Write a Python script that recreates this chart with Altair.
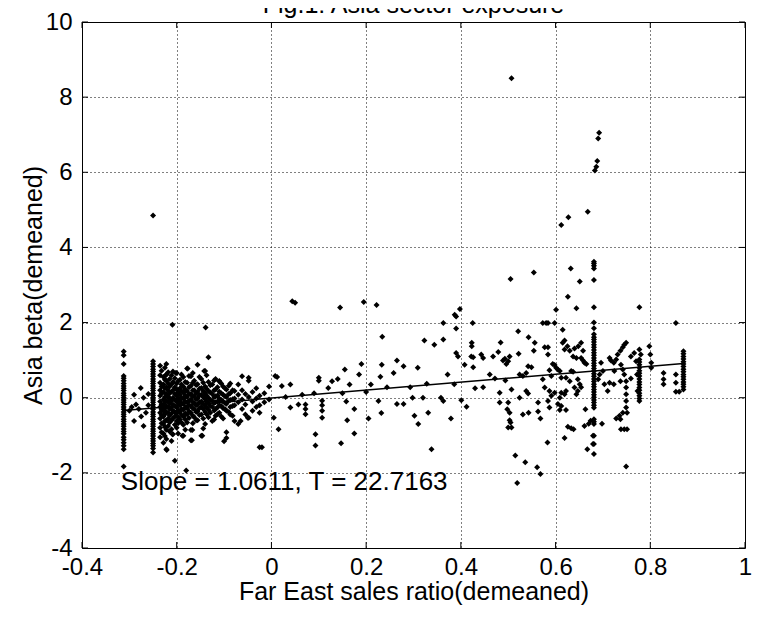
import altair as alt
import pandas as pd

# ---------------- data ----------------
# firms with zero Far East sales (a vertical column of points)
col_a_x = -0.312
col_a_y = [1.23, 1.13, 0.9, 0.58, 0.52, 0.45, 0.38, 0.31, 0.25, 0.19, 0.12, 0.06, 0.0,
           -0.06, -0.12, -0.18, -0.25, -0.31, -0.38, -0.44, -0.5, -0.57, -0.63, -0.7,
           -0.76, -0.83, -0.9, -0.96, -1.05, -1.12, -1.2, -1.28, -1.37, -1.83]

col_b_x = -0.25
col_b_y = [4.85, 0.97, 0.9, 0.83, 0.76, 0.7, 0.63, 0.57, 0.5, 0.44, 0.38, 0.31, 0.25, 0.19,
           0.12, 0.06, 0.0, -0.06, -0.12, -0.19, -0.25, -0.31, -0.38, -0.44, -0.5, -0.57,
           -0.63, -0.7, -0.76, -0.83, -0.89, -0.96, -1.02, -1.09, -1.15, -1.22, -1.28,
           -1.35, -1.46]

# dense cluster, read as thin vertical strips
cluster_x = [-0.235, -0.228, -0.222, -0.215, -0.208, -0.2, -0.193, -0.186, -0.178,
             -0.17, -0.163, -0.156, -0.148, -0.14, -0.133, -0.125, -0.118, -0.11,
             -0.102, -0.095, -0.087, -0.078, -0.07, -0.062, -0.055, -0.048, -0.04,
             -0.032, -0.025, -0.015, -0.005]
cluster_y = [
    [0.85, 0.6, 0.4, 0.2, 0.05, -0.1, -0.25, -0.4, -0.55, -0.8, -1.05],
    [0.55, 0.35, 0.15, -0.05, -0.2, -0.35, -0.5, -0.7, -0.95, -1.2],
    [0.9, 0.62, 0.45, 0.28, 0.1, -0.08, -0.22, -0.38, -0.6, -0.85, -1.1, -1.37],
    [0.5, 0.3, 0.12, -0.02, -0.15, -0.3, -0.48, -0.66, -0.9],
    [0.7, 0.42, 0.2, 0.0, -0.18, -0.34, -0.55, -0.97],
    [0.66, 0.38, 0.22, 0.05, -0.1, -0.26, -0.42, -0.62, -0.8],
    [0.48, 0.25, 0.08, -0.06, -0.2, -0.38, -0.58],
    [0.55, 0.3, 0.14, -0.02, -0.16, -0.32, -0.5, -0.72, -1.01],
    [0.78, 0.4, 0.18, 0.02, -0.12, -0.28, -0.45, -0.66],
    [0.57, 0.32, 0.1, -0.05, -0.22, -0.4, -0.86, -1.13],
    [0.45, 0.2, 0.04, -0.14, -0.3, -0.52],
    [0.88, 0.36, 0.15, -0.02, -0.18, -0.36, -0.6],
    [0.5, 0.26, 0.08, -0.1, -0.25, -0.45, -1.01],
    [0.71, 0.3, 0.12, -0.04, -0.2, -0.38, -0.7],
    [1.08, 0.42, 0.18, 0.0, -0.15, -0.32, -0.52],
    [0.35, 0.1, -0.08, -0.24, -0.62],
    [0.5, 0.22, 0.04, -0.12, -0.3, -0.48],
    [0.44, 0.16, -0.02, -0.2, -0.4],
    [0.3, 0.08, -0.1, -0.28, -0.55],
    [0.22, 0.02, -0.16, -0.35, -0.92, -1.07],
    [0.38, 0.12, -0.06, -0.25, -0.45],
    [0.18, -0.02, -0.2, -0.62],
    [0.35, 0.08, -0.12, -0.7],
    [0.57, 0.2, -0.05, -0.3],
    [0.1, -0.18, -0.45],
    [0.53, 0.45, 0.02, -0.53],
    [0.15, -0.1, -0.35],
    [0.25, -0.02, -0.25],
    [0.05, -0.2, -0.4, -1.32],
    [0.12, -0.12],
    [0.3, -0.05],
]

# further strips in between (the cluster is nearly solid)
cluster2_x = [-0.232, -0.225, -0.218, -0.211, -0.204, -0.197, -0.19, -0.182, -0.174,
              -0.166, -0.159, -0.152, -0.144, -0.137, -0.129, -0.121, -0.114, -0.106,
              -0.098, -0.09, -0.082]
cluster2_y = [
    [0.72, 0.3, 0.12, -0.18, -0.32, -0.46, -0.68, -0.92],
    [0.8, 0.48, 0.25, 0.02, -0.12, -0.28, -0.44, -0.62, -0.78, -1.02],
    [0.68, 0.38, 0.19, 0.04, -0.1, -0.24, -0.4, -0.56, -0.75],
    [0.6, 0.36, 0.16, -0.08, -0.25, -0.42, -0.6, -0.84, -1.15],
    [0.52, 0.28, 0.1, -0.06, -0.22, -0.38, -0.5, -0.72],
    [0.44, 0.15, -0.02, -0.16, -0.34, -0.52, -0.68, -0.95],
    [0.62, 0.35, 0.18, 0.0, -0.14, -0.3, -0.46, -0.66],
    [0.42, 0.22, 0.06, -0.1, -0.26, -0.42, -0.58, -0.85],
    [0.58, 0.28, 0.1, -0.08, -0.2, -0.36, -0.54],
    [0.66, 0.4, 0.2, 0.03, -0.12, -0.28, -0.48, -0.68],
    [0.34, 0.12, -0.04, -0.2, -0.38, -0.6],
    [0.55, 0.24, 0.06, -0.12, -0.28, -0.46],
    [0.4, 0.18, 0.02, -0.16, -0.3, -0.55, -0.82],
    [0.6, 0.24, 0.06, -0.1, -0.26, -0.44],
    [0.33, 0.14, -0.06, -0.22, -0.4],
    [0.46, 0.2, 0.02, -0.14, -0.34, -0.58],
    [0.28, 0.06, -0.1, -0.26, -0.44],
    [0.38, 0.12, -0.06, -0.22, -0.5],
    [0.25, 0.04, -0.14, -0.3],
    [0.32, 0.1, -0.08, -0.38],
    [0.2, -0.04, -0.22, -0.48],
]

# scattered points on the left
left_pts = [(-0.29, 0.08), (-0.276, 0.26), (-0.27, 0.0), (-0.286, -0.18), (-0.29, -0.62),
            (-0.27, -0.75), (-0.3, -0.35), (-0.28, -0.3), (-0.265, -0.4), (-0.295, -0.25),
            (-0.26, -0.2), (-0.275, -0.5), (-0.26, 0.1), (-0.209, 1.94), (-0.139, 1.87),
            (-0.204, -1.68), (-0.18, -1.94), (-0.1, -1.16), (-0.221, -1.39), (-0.168, -1.13),
            (-0.209, -0.97), (-0.188, -1.01), (-0.146, -1.01), (-0.167, -0.86),
            (-0.065, -0.62), (-0.05, -0.53), (-0.11, 0.44), (-0.142, 0.71), (-0.177, 0.78),
            (-0.223, 0.6), (-0.202, 0.66), (-0.02, -1.32)]

# scattered points between 0 and 0.22
mid_pts = [(0.008, 0.58), (0.012, 0.55), (0.022, 0.31), (0.04, 0.35), (0.015, -0.84),
           (0.005, -0.53), (0.04, -0.26), (0.057, -0.18), (0.044, 2.57), (0.05, 2.53),
           (0.072, -0.18), (0.072, -0.3), (0.072, -0.44), (0.1, 0.53), (0.1, 0.45),
           (0.12, 0.26), (0.128, 0.44), (0.107, -0.08), (0.107, -0.2), (0.107, -0.35),
           (0.107, -0.53), (0.093, -0.97), (0.093, -1.27), (0.03, 0.02), (0.065, 0.08),
           (0.09, 0.12), (0.145, 2.4), (0.195, 2.55), (0.147, -1.21), (0.14, 0.5),
           (0.15, 0.12), (0.158, -0.1), (0.165, 0.35), (0.175, -0.3), (0.185, 0.62),
           (0.19, 0.9), (0.2, 0.15), (0.205, -0.55), (0.16, -0.6), (0.175, -0.95),
           (0.21, 0.35), (0.155, 0.75)]

# scattered points on the right
right_pts = [(0.222, 2.47), (0.234, 1.62), (0.233, 0.88), (0.23, 0.56), (0.226, -0.09),
             (0.232, -0.41), (0.258, 0.66), (0.265, 0.99), (0.279, 0.84), (0.244, 0.28),
             (0.265, -0.17), (0.279, -0.17), (0.293, 0.28), (0.298, 0.0), (0.302, -0.48),
             (0.31, -0.7), (0.32, 0.0), (0.328, 0.37), (0.331, -0.4), (0.309, 0.8),
             (0.323, 1.52), (0.344, 1.41), (0.363, 1.55), (0.363, 1.99), (0.358, 0.0),
             (0.363, -0.09), (0.372, 0.62), (0.379, -0.55), (0.338, -1.37), (0.387, 2.21),
             (0.39, 2.16), (0.398, 2.36), (0.39, 1.84), (0.386, 0.36), (0.39, 1.19),
             (0.394, 1.1), (0.408, 0.88), (0.401, -0.07), (0.412, -0.24), (0.423, 1.46),
             (0.423, 1.37), (0.426, 1.08), (0.422, 1.1), (0.426, 0.81), (0.43, 0.25),
             (0.443, 1.15), (0.447, 1.06), (0.425, 1.99), (0.447, 0.28), (0.461, 0.62),
             (0.472, 0.51), (0.468, 1.1), (0.479, 1.22), (0.484, 1.47), (0.489, 0.99),
             (0.493, 1.04), (0.496, 0.9), (0.5, 0.97), (0.503, 1.1), (0.505, 3.16),
             (0.482, 0.13), (0.482, -0.13), (0.494, 0.46), (0.5, -0.13), (0.498, -0.31),
             (0.503, -0.4), (0.507, 0.22), (0.522, 1.17), (0.521, 1.77), (0.503, -0.6),
             (0.505, -0.66), (0.5, -0.79), (0.507, -0.79), (0.515, -1.54), (0.536, -1.72),
             (0.519, -2.27), (0.561, -1.85), (0.568, -2.03), (0.583, -1.19), (0.524, 0.0),
             (0.524, 0.62), (0.531, 0.58), (0.538, 0.66), (0.542, 0.84), (0.549, 0.81),
             (0.543, 1.61), (0.554, 3.33), (0.556, 1.46), (0.554, 1.25), (0.538, 0.18),
             (0.542, 0.11), (0.531, -0.45), (0.543, -0.4), (0.563, -0.13), (0.563, -0.37),
             (0.568, -0.55), (0.573, 1.99), (0.58, 1.99), (0.584, 1.99), (0.577, 1.34),
             (0.584, 1.15), (0.584, 1.34), (0.587, 0.73), (0.591, 0.58), (0.587, 0.18),
             (0.577, 0.27), (0.573, 0.49), (0.594, 0.9), (0.598, 0.87), (0.601, 0.8),
             (0.605, 0.75), (0.609, 0.71), (0.591, 0.05), (0.584, -0.09), (0.587, -0.26),
             (0.598, 0.13), (0.605, -0.17), (0.609, 0.0), (0.612, 0.13), (0.612, 0.53),
             (0.601, 2.34), (0.598, 1.99), (0.615, 1.81), (0.615, 1.46), (0.619, 1.52),
             (0.619, 1.28), (0.626, 2.69), (0.632, 3.44), (0.644, 2.38), (0.651, 3.09),
             (0.622, 0.53), (0.622, 0.18), (0.619, 0.09), (0.612, -0.22), (0.609, -0.33),
             (0.622, -0.33), (0.63, 0.44), (0.633, 0.71), (0.637, 0.69), (0.626, -0.77),
             (0.633, -0.81), (0.638, -0.84), (0.619, -1.07), (0.625, 1.37), (0.63, 1.25),
             (0.637, 1.1), (0.64, 1.31), (0.644, 1.06), (0.648, 1.37), (0.654, 1.46),
             (0.658, 1.25), (0.654, 1.06), (0.658, 0.99), (0.661, 0.93), (0.665, 0.9),
             (0.647, 0.49), (0.651, 0.36), (0.654, 0.28), (0.647, 0.18), (0.64, 0.27),
             (0.644, 0.09), (0.663, -0.31), (0.661, -0.75), (0.667, -1.37), (0.679, -1.23),
             (0.679, -1.01), (0.67, -0.69), (0.674, -0.61), (0.698, -0.69),
             (0.696, 0.93), (0.7, 0.71), (0.693, 0.62), (0.69, 0.49), (0.703, 0.36),
             (0.71, 0.18), (0.714, 0.4), (0.723, 0.36), (0.714, 1.06), (0.717, 0.99),
             (0.723, 0.93), (0.728, 1.02), (0.724, 0.71), (0.731, 1.15), (0.737, 1.25),
             (0.742, 1.34), (0.745, 1.41), (0.749, 1.46), (0.738, 0.88), (0.742, 0.75),
             (0.745, 0.62), (0.737, 0.44), (0.749, 0.44), (0.749, 0.27), (0.749, 0.09),
             (0.749, -0.09), (0.749, -0.26), (0.742, -0.4), (0.751, -0.4), (0.737, -0.57),
             (0.728, -0.55), (0.735, -0.48), (0.738, -0.84), (0.745, -0.84), (0.751, -0.84),
             (0.749, -1.83), (0.759, 0.51), (0.759, 1.1), (0.766, 1.19), (0.77, 0.97),
             (0.777, 1.28), (0.78, 1.15), (0.772, 0.62), (0.773, 0.18), (0.777, 2.41),
             (0.798, 1.37), (0.8, 1.15), (0.802, 0.93), (0.802, 0.8), (0.828, 0.66),
             (0.828, 0.49), (0.828, 0.36), (0.854, 1.99), (0.854, 0.62), (0.854, 0.4),
             (0.854, 0.16), (0.861, 0.16)]

# high outliers
high_pts = [(0.507, 8.5), (0.612, 4.6), (0.627, 4.8), (0.668, 4.95), (0.683, 6.05),
            (0.686, 6.15), (0.688, 6.3), (0.69, 6.9), (0.692, 7.05)]

col_c_x = 0.681
col_c_y = [3.62, 3.57, 3.51, 3.44, 3.13, 2.41, 2.0, 1.85, 1.69, 1.61, 1.55, 1.48, 1.41,
           1.34, 1.27, 1.2, 1.13, 1.06, 0.99, 0.92, 0.85, 0.78, 0.71, 0.64, 0.57, 0.5,
           0.43, 0.36, 0.29, 0.22, 0.15, 0.08, 0.01, -0.06, -0.13, -0.2, -0.27, -0.57,
           -0.64, -0.7, -1.01, -1.23, -1.5]

col_d_x = 0.777
col_d_y = [1.02, 0.95, 0.88, 0.8, 0.72, 0.65, 0.58, 0.5, 0.42, 0.35, 0.27, 0.2, 0.12,
           0.05, -0.02, -0.09]

col_e_x = 0.87
col_e_y = [1.24, 1.17, 1.1, 1.03, 0.96, 0.9, 0.83, 0.76, 0.69, 0.62, 0.56, 0.49, 0.42,
           0.36, 0.29, 0.22]

# regression fit shown on the chart
slope = 1.0611
intercept = -0.01
fit_x = [-0.312, 0.87]
t_stat = 22.7163
label_x = -0.318
label_y = -2.45

x_ticks = [-0.4, -0.2, 0, 0.2, 0.4, 0.6, 0.8, 1]
y_ticks = [-4, -2, 0, 2, 4, 6, 8, 10]

# ---------------- build tables ----------------
xs, ys = [], []
for cx, cy in [(col_a_x, col_a_y), (col_b_x, col_b_y), (col_c_x, col_c_y),
               (col_d_x, col_d_y), (col_e_x, col_e_y)]:
    xs += [cx] * len(cy)
    ys += cy
for cols, vals in [(cluster_x, cluster_y), (cluster2_x, cluster2_y)]:
    for cx, cy in zip(cols, vals):
        xs += [cx] * len(cy)
        ys += cy
for pts in [left_pts, mid_pts, right_pts, high_pts]:
    xs += [p[0] for p in pts]
    ys += [p[1] for p in pts]
pts_df = pd.DataFrame({"x": xs, "y": ys})

fit_df = pd.DataFrame({"x": fit_x, "y": [intercept + slope * v for v in fit_x]})
xt_df = pd.DataFrame({"x": x_ticks})
yt_df = pd.DataFrame({"y": y_ticks})
lab_df = pd.DataFrame({"x": [label_x], "y": [label_y],
                       "t": [f"Slope = {slope:.4f}, T = {t_stat:.4f}"]})

W, H = 663, 526
FONT = "Liberation Sans"

xscale = alt.Scale(domain=[-0.4, 1], nice=False, zero=False)
yscale = alt.Scale(domain=[-4, 10], nice=False, zero=False)
xaxis = alt.Axis(values=x_ticks, labelExpr="toString(datum.value)", grid=True,
                 ticks=False, tickSize=0, domain=False, labelPadding=7,
                 labelFlush=False, labelFontSize=24, titleFontSize=25,
                 titleY=51, titleBaseline="alphabetic", titleFontWeight="normal")
yaxis = alt.Axis(values=y_ticks, labelExpr="toString(datum.value)", grid=True,
                 ticks=False, tickSize=0, domain=False, labelPadding=10,
                 labelFlush=False, labelFontSize=24, titleFontSize=25,
                 titleX=-41, titleBaseline="alphabetic", titleFontWeight="normal")


def X(f="x"):
    return alt.X(f"{f}:Q", scale=xscale, axis=xaxis, title="Far East sales ratio(demeaned)")


def Y(f="y"):
    return alt.Y(f"{f}:Q", scale=yscale, axis=yaxis, title="Asia beta(demeaned)")


points = alt.Chart(pts_df).mark_point(shape="diamond", filled=True, size=36,
                                      color="black", opacity=1).encode(x=X(), y=Y())

fit = alt.Chart(fit_df).mark_line(color="black", strokeWidth=1.5).encode(x=X(), y=Y())

tick_bottom = alt.Chart(xt_df).mark_rule(color="black").encode(
    x=X(), y=alt.value(H), y2=alt.value(H - 6))
tick_top = alt.Chart(xt_df).mark_rule(color="black").encode(
    x=X(), y=alt.value(0), y2=alt.value(6))
tick_left = alt.Chart(yt_df).mark_rule(color="black").encode(
    y=Y(), x=alt.value(0), x2=alt.value(6))
tick_right = alt.Chart(yt_df).mark_rule(color="black").encode(
    y=Y(), x=alt.value(W), x2=alt.value(W - 6))

label = alt.Chart(lab_df).mark_text(align="left", baseline="alphabetic", fontSize=26,
                                    font=FONT, color="black").encode(
    x=X(), y=Y(), text="t:N")

title = alt.Chart(pd.DataFrame({"t": ["Fig.1: Asia sector exposure"]})).mark_text(
    align="center", baseline="alphabetic", fontSize=25, font=FONT, color="black").encode(
    x=alt.value(W / 2), y=alt.value(-9), text="t:N")

chart = alt.layer(points, fit, tick_bottom, tick_top, tick_left, tick_right, label,
                  title).properties(
    width=W, height=H,
    autosize=alt.AutoSizeParams(type="none"),
    padding={"left": 74, "top": 14, "right": 8, "bottom": 57},
    background="white",
).configure_view(stroke="black", strokeWidth=1).configure_axis(
    labelFont=FONT, titleFont=FONT, labelColor="black", titleColor="black",
    gridColor="black", gridOpacity=1, gridDash=[1, 3], gridWidth=1,
)

chart.save("out.html", embed_options={"renderer": "svg", "actions": False})
